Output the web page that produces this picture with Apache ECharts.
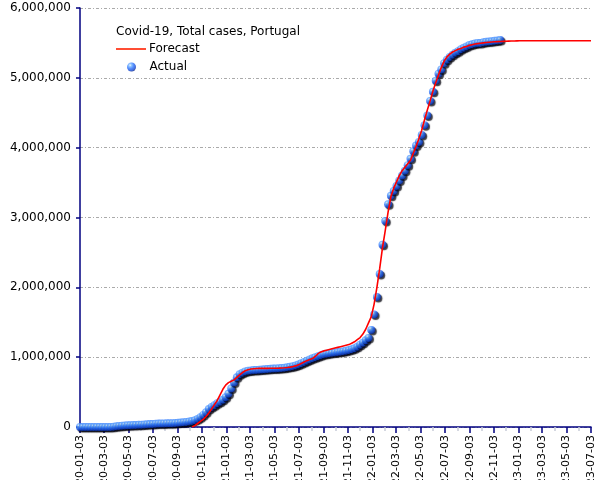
<!DOCTYPE html>
<html>
<head>
<meta charset="utf-8">
<script src="https://cdn.jsdelivr.net/npm/echarts@6/dist/echarts.min.js"></script>
<style>html,body{margin:0;padding:0;background:#fff}#c{width:605px;height:480px}</style>
</head>
<body>
<div id="c"></div>
<script>
// ---- data ----
const axisStart = '2020-01-03';
const axisEnd = '2023-07-03';
const xTickLabels = ['2020-01-03','2020-03-03','2020-05-03','2020-07-03','2020-09-03','2020-11-03',
  '2021-01-03','2021-03-03','2021-05-03','2021-07-03','2021-09-03','2021-11-03',
  '2022-01-03','2022-03-03','2022-05-03','2022-07-03','2022-09-03','2022-11-03',
  '2023-01-03','2023-03-03','2023-05-03','2023-07-03'];
const yTicks = [0, 1000000, 2000000, 3000000, 4000000, 5000000, 6000000];

const chartTitle = 'Covid-19, Total cases, Portugal';
const seriesNames = ['Forecast', 'Actual'];

// Actual: weekly observations starting 2020-01-03
const actualStart = '2020-01-03';
const actualStepDays = 7;
const actualValues = [
  0,0,0,0,0,0,0,0,0,13,
  112,1020,4268,9886,15472,19685,22797,25351,26715,28583,
  30200,31946,33969,36180,38841,41189,43569,46221,48390,50164,
  51463,52537,53783,55211,57448,60258,64059,68025,72939,78247,
  85574,98055,116109,141279,173540,211266,255970,285838,312553,340287,
  362616,388677,427254,474856,549801,636190,711018,755774,778369,794769,
  804956,810094,814513,817604,819698,823335,826161,829358,832630,836150,
  839353,841983,845249,849093,855258,862109,871597,882442,896016,913215,
  931365,950159,967260,984016,999571,1014697,1028486,1040368,1048913,1055625,
  1062280,1068030,1074036,1079243,1085836,1092487,1101064,1111994,1127134,1149048,
  1178069,1208003,1242000,1275000,1390000,1610000,1860000,2190000,2610000,2950000,
  3190000,3310000,3380000,3450000,3530000,3600000,3670000,3750000,3840000,3950000,
  4030000,4080000,4180000,4320000,4460000,4670000,4800000,4960000,5060000,5120000,
  5210000,5260000,5300000,5330000,5360000,5380000,5410000,5430000,5450000,5470000,
  5480000,5490000,5500000,5500000,5510000,5515000,5520000,5525000,5530000,5535000,
  5540000
];

// Forecast: weekly values starting 2020-10-09, then final value at 2023-07-03
const forecastStart = '2020-10-09';
const forecastStepDays = 7;
const forecastValues = [
  0,20000,50000,80000,110000,150000,200000,260000,320000,380000,
  460000,540000,600000,635000,655000,675000,710000,745000,780000,805000,
  820000,830000,835000,838000,840000,840000,840000,840000,841000,841000,
  842000,843000,845000,848000,852000,857000,865000,875000,890000,910000,
  930000,950000,965000,980000,1010000,1050000,1075000,1090000,1100000,1110000,
  1120000,1130000,1140000,1150000,1160000,1170000,1180000,1200000,1220000,1250000,
  1280000,1330000,1400000,1490000,1580000,1760000,2000000,2270000,2570000,2820000,
  3080000,3300000,3420000,3510000,3600000,3670000,3720000,3770000,3820000,3920000,
  4020000,4130000,4250000,4400000,4540000,4670000,4810000,4930000,5040000,5150000,
  5240000,5300000,5340000,5370000,5390000,5410000,5420000,5440000,5450000,5465000,
  5475000,5485000,5490000,5495000,5500000,5505000,5510000,5513000,5516000,5518000,
  5520000,5522000,5524000,5526000,5527000,5528000,5529000,5530000
];
const forecastEndDate = '2023-07-03';
const forecastEndValue = 5530000;

// ---- build category axis (one category per day) ----
function parseDay(s){ const p = s.split('-').map(Number); return Date.UTC(p[0], p[1]-1, p[2]); }
function fmt(t){ const d = new Date(t); return d.getUTCFullYear() + '-' + String(d.getUTCMonth()+1).padStart(2,'0') + '-' + String(d.getUTCDate()).padStart(2,'0'); }
const DAY = 86400000;
const days = [];
for (let t = parseDay(axisStart); t <= parseDay(axisEnd); t += DAY) days.push(fmt(t));
const dayIndex = s => Math.round((parseDay(s) - parseDay(axisStart)) / DAY);

const majorSet = new Set(xTickLabels);
const minorSet = new Set(days.filter(d => d.endsWith('-03')));

const actualData = actualValues.map((v, i) => [dayIndex(actualStart) + i * actualStepDays, v]);
const forecastData = forecastValues.map((v, i) => [dayIndex(forecastStart) + i * forecastStepDays, v]);
forecastData.push([dayIndex(forecastEndDate), forecastEndValue]);

const FONT = 'DejaVu Sans';
const navy = '#000080';

const chart = echarts.init(document.getElementById('c'), null, {renderer: 'canvas'});
chart.setOption({
  animation: false,
  backgroundColor: '#ffffff',
  textStyle: {fontFamily: FONT},
  title: {
    text: chartTitle, left: 116, top: 26, padding: 0,
    textStyle: {fontFamily: FONT, fontSize: 12, fontWeight: 'normal', color: '#000'}
  },
  legend: [
    {data: [{name: seriesNames[0], icon: 'rect'}], orient: 'vertical', left: 116, top: 43, padding: 0,
     itemWidth: 30, itemHeight: 1.6, itemStyle: {color: '#ff2000'},
     textStyle: {fontFamily: FONT, fontSize: 12, color: '#000', padding: [0,0,0,-2]}},
    {data: [{name: seriesNames[1], icon: 'circle'}], orient: 'vertical', left: 127, top: 61, padding: 0,
     itemWidth: 30, itemHeight: 9,
     textStyle: {fontFamily: FONT, fontSize: 12, color: '#000', padding: [0,0,0,-2]}}
  ],
  grid: {left: 80, right: 14, top: 8, bottom: 53, containLabel: false, outerBoundsMode: 'none'},
  xAxis: [
    {
      type: 'category', data: days, boundaryGap: false, position: 'bottom',
      axisLine: {show: true, onZero: false, lineStyle: {color: navy, width: 1.5}},
      axisTick: {show: true, length: 6, interval: (i, v) => majorSet.has(v), lineStyle: {color: navy, width: 1.5}},
      axisLabel: {show: true, rotate: 90, margin: 8, interval: (i, v) => majorSet.has(v),
        fontFamily: FONT, fontSize: 11, color: '#000'},
      splitLine: {show: false}
    },
    {
      type: 'category', data: days, boundaryGap: false, position: 'bottom',
      axisLine: {show: false, onZero: false},
      axisTick: {show: true, length: 4, interval: (i, v) => minorSet.has(v) && !majorSet.has(v), lineStyle: {color: '#c8ccd8', width: 1.5}},
      axisLabel: {show: false},
      splitLine: {show: false}
    }
  ],
  yAxis: {
    type: 'value', min: yTicks[0], max: yTicks[yTicks.length-1], interval: yTicks[1] - yTicks[0],
    axisLine: {show: true, lineStyle: {color: navy, width: 1.5}},
    axisTick: {show: true, length: 4, lineStyle: {color: navy, width: 1.5}},
    axisLabel: {margin: 9, fontFamily: FONT, fontSize: 12, color: '#000',
      formatter: v => String(v).replace(/\B(?=(\d{3})+(?!\d))/g, ',')},
    splitLine: {show: true, lineStyle: {color: '#aaaaaa', width: 1, type: [3, 2, 1, 2]}}
  },
  series: [
    {
      name: seriesNames[1], type: 'scatter', xAxisIndex: 0, data: actualData,
      symbol: 'circle', symbolSize: 8, z: 2,
      itemStyle: {
        color: {type: 'radial', x: 0.35, y: 0.3, r: 0.75, colorStops: [
          {offset: 0, color: '#eef8ff'}, {offset: 0.2, color: '#78b8ff'},
          {offset: 0.5, color: '#2c74ff'}, {offset: 0.85, color: '#1040c8'}, {offset: 1, color: '#06207a'}]},
        shadowColor: 'rgba(0,0,10,0.95)', shadowBlur: 1, shadowOffsetX: 1.5, shadowOffsetY: 1.5
      }
    },
    {
      name: seriesNames[0], type: 'line', xAxisIndex: 0, data: forecastData,
      symbol: 'none', showSymbol: false, smooth: false, z: 3,
      lineStyle: {color: '#ff0000', width: 1.6},
      itemStyle: {color: '#ff0000'}
    }
  ]
});
</script>
</body>
</html>
